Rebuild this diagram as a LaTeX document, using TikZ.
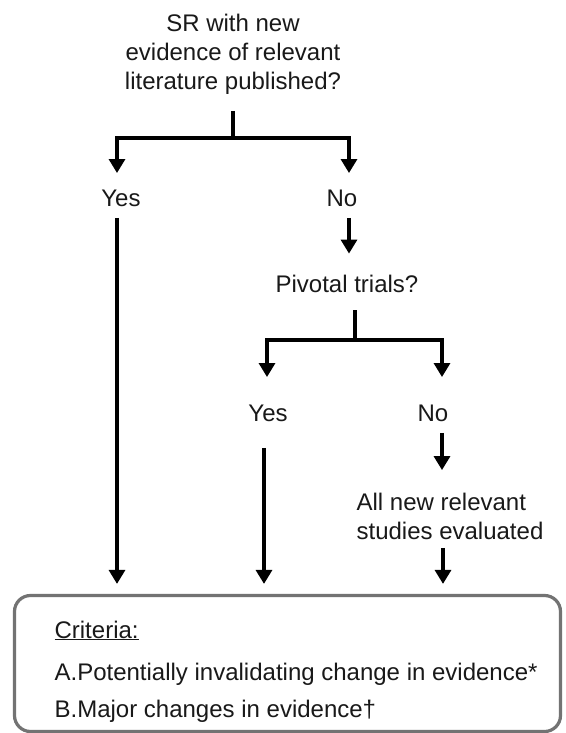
\documentclass[tikz,border=0pt]{standalone}
\usepackage{fontspec}
\setmainfont{Liberation Sans}
\usetikzlibrary{arrows.meta}
\begin{document}
\begin{tikzpicture}[x=1pt, y=-1pt, line width=3.2pt,
  lbl/.style={font=\fontsize{24}{29}\selectfont, inner sep=0pt, align=center, text=black!90},
  arr/.style={-{Triangle[width=16pt, length=14pt]}},
  critbox/.style={draw=black!55, line width=3.2pt, rounded corners=16pt, minimum width=546pt, minimum height=136pt, inner sep=0pt}]
  \useasboundingbox[fill=white] (0,0) rectangle (565,733);
  % questions and answers
  \node[lbl] (q1) at (233,54) {SR with new\\evidence  of relevant\\literature  published?};
  \node[lbl] (yes1) at (121,198) {Yes};
  \node[lbl] (no1) at (342,198) {No};
  \node[lbl] (piv) at (347,284) {Pivotal trials?};
  \node[lbl] (yes2) at (268,413) {Yes};
  \node[lbl] (no2) at (433,413) {No};
  \node[lbl, align=left] (allnew) at (450,516) {All new relevant\\studies evaluated};
  % criteria box
  \node[critbox] (crit) at (287.5,663.5) {};
  \node[lbl, anchor=base west] (critT) at (53,638) {\underline{Criteria:}};
  \node[lbl, anchor=base west] (critA) at (53,680) {A.Potentially invalidating  change in evidence*};
  \node[lbl, anchor=base west] (critB) at (53,717) {B.Major changes in evidence\textdagger};
  % branching
  \coordinate (j1) at (233,138);
  \coordinate (j2) at (355,340);
  \draw[shorten <=15pt] (q1.south) -- (j1);
  \draw[arr, shorten >=15pt] (j1) -| ([xshift=-4pt]yes1.north);
  \draw[arr, shorten >=15pt] (j1) -| ([xshift=7pt]no1.north);
  \draw[arr, shorten <=10pt, shorten >=20pt] ([xshift=7pt]no1.south) -- ([xshift=7pt]no1.south |- piv.north);
  \draw[shorten <=16pt] (piv.south -| j2) -- (j2);
  \draw[arr, shorten >=26pt] (j2) -| ([xshift=-1pt]yes2.north);
  \draw[arr, shorten >=26pt] (j2) -| ([xshift=9pt]no2.north);
  \draw[arr, shorten <=10pt, shorten >=21pt] ([xshift=9pt]no2.south) -- ([xshift=9pt]no2.south |- allnew.north);
  % into criteria
  \draw[arr, shorten <=10pt, shorten >=10pt] ([xshift=-4pt]yes1.south) -- ([xshift=-4pt]yes1.south |- crit.north);
  \draw[arr, shorten <=25pt, shorten >=10pt] ([xshift=-4pt]yes2.south) -- ([xshift=-4pt]yes2.south |- crit.north);
  \draw[arr, shorten <=7pt, shorten >=10pt] ([xshift=-7pt]allnew.south) -- ([xshift=-7pt]allnew.south |- crit.north);
\end{tikzpicture}
\end{document}
